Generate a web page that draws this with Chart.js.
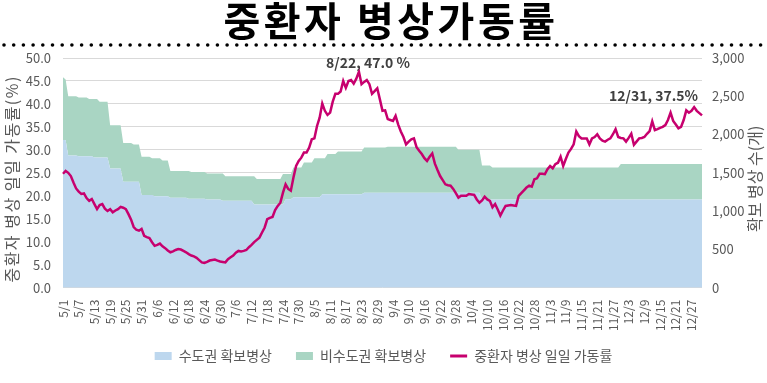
<!DOCTYPE html>
<html><head><meta charset="utf-8">
<script src="https://cdn.jsdelivr.net/npm/chart.js@4"></script>
<style>html,body{margin:0;padding:0;background:#fff;overflow:hidden}#wrap{width:767px;height:383px;position:relative}</style>
</head><body><div id="wrap"><canvas id="c" width="767" height="383"></canvas></div>
<script>
const titleText = '중환자 병상가동률';
const seriesNames = ['수도권 확보병상', '비수도권 확보병상', '중환자 병상 일일 가동률'];
const leftAxisTitle = '중환자 병상 일일 가동률(%)';
const rightAxisTitle = '확보 병상 수(개)';
const monthNames = [5, 6, 7, 8, 9, 10, 11, 12];
const monthDays = [31, 30, 31, 31, 30, 31, 30, 31];
const tickEvery = 6;
const annotations = [{ index: 113, text: '8/22, 47.0 %' }, { index: 244, text: '12/31, 37.5%' }];

// 중환자 병상 일일 가동률 (%), daily 5/1 - 12/31
const occupancyRate = [
  // May
  24.8,25.4,25.0,24.3,22.9,21.6,20.9,20.4,20.5,19.5,18.9,19.3,18.2,17.1,18.0,18.2,17.2,16.7,17.1,16.4,16.8,17.1,17.6,17.4,17.1,16.0,14.8,13.2,12.6,12.4,12.8,
  // June
  11.3,11.0,10.8,9.9,9.1,9.3,9.6,9.0,8.6,8.1,7.7,7.9,8.2,8.4,8.3,8.0,7.7,7.3,7.0,6.8,6.5,6.0,5.5,5.4,5.6,5.9,6.0,6.1,5.9,5.7,
  // July
  5.6,5.5,6.2,6.6,7.0,7.6,8.0,7.9,8.0,8.2,8.8,9.3,9.9,10.4,10.9,12.0,13.1,14.9,15.2,15.4,16.9,17.8,18.5,20.7,22.5,21.5,21.1,24.0,26.5,27.6,28.3,
  // August
  29.4,29.4,30.5,32.3,32.5,35.2,37.0,40.1,38.5,37.6,38.1,40.5,42.2,42.2,42.7,45.0,43.5,45.0,45.2,44.4,45.5,47.0,44.3,44.8,45.2,44.3,42.2,42.8,43.4,41.0,38.5,
  // September
  38.6,36.7,36.5,36.3,37.4,35.5,34.0,32.8,31.2,31.8,32.3,32.5,30.6,29.8,29.1,28.2,27.6,28.5,29.2,27.0,25.6,24.3,23.4,22.5,22.3,22.2,21.5,20.6,19.6,20.0,
  // October
  20.0,20.0,20.4,20.3,20.2,19.2,18.5,19.0,19.8,19.2,18.9,17.5,18.2,17.0,15.7,16.8,17.8,17.9,18.0,17.9,17.8,20.0,20.6,21.2,21.8,22.2,22.0,23.6,23.8,24.8,24.8,
  // November
  24.7,25.8,26.5,26.0,26.9,27.2,28.5,26.5,28.0,29.4,30.2,31.2,34.0,33.0,32.5,32.5,32.5,31.2,32.5,32.8,33.4,32.5,32.0,31.8,32.2,32.5,33.4,34.5,32.8,32.6,
  // December
  32.5,31.8,32.6,33.5,31.1,31.8,32.5,32.6,32.8,33.5,34.1,36.2,34.3,34.5,34.8,35.0,35.4,36.5,38.1,36.3,35.5,34.7,35.0,36.5,38.6,38.1,38.5,39.3,38.5,38.0,37.5
];

// 수도권 확보병상 (beds)
const capitalBeds = [
  // May
  1930,1930,1725,1725,1725,1725,1715,1715,1715,1715,
  1715,1715,1700,1700,1700,1700,1700,1700,1555,1555,
  1555,1555,1555,1385,1385,1385,1385,1385,1385,1385,
  1210,
  // June
  1210,1210,1210,1210,1195,1195,1195,1195,1195,1195,
  1175,1175,1175,1175,1175,1175,1175,1160,1160,1160,
  1160,1160,1160,1160,1150,1150,1150,1150,1150,1150,
  // July
  1135,1135,1135,1135,1135,1135,1135,1135,1135,1135,
  1135,1135,1085,1085,1085,1085,1085,1085,1085,1085,
  1085,1085,1085,1085,1155,1155,1155,1180,1180,1180,
  1180,
  // August
  1180,1180,1180,1180,1180,1180,1180,1220,1220,1220,
  1220,1220,1220,1220,1220,1220,1220,1220,1220,1220,
  1220,1220,1220,1240,1240,1240,1240,1240,1240,1240,
  1240,
  // September
  1240,1240,1240,1240,1240,1240,1240,1240,1240,1240,
  1240,1240,1240,1240,1240,1240,1240,1240,1240,1240,
  1240,1240,1240,1240,1240,1240,1240,1240,1240,1240,
  // October
  1240,1240,1240,1240,1240,1240,1240,1150,1150,1150,
  1150,1150,1150,1150,1150,1150,1150,1150,1150,1150,
  1150,1150,1150,1150,1150,1150,1150,1150,1150,1150,
  1150,
  // November
  1150,1150,1150,1150,1150,1150,1150,1150,1150,1150,
  1150,1150,1150,1150,1150,1150,1150,1150,1150,1150,
  1150,1150,1150,1150,1150,1150,1150,1150,1150,1150,
  // December
  1150,1150,1150,1150,1150,1150,1150,1150,1150,1150,
  1150,1150,1150,1150,1150,1150,1150,1150,1150,1150,
  1150,1150,1150,1150,1150,1150,1150,1150,1150,1150,
  1150
];

// 비수도권 확보병상 (beds)
const nonCapitalBeds = [
  // May
  820,790,775,775,775,775,770,770,770,770,
  750,750,765,765,730,730,730,730,565,565,
  565,565,565,505,505,505,505,485,485,485,
  500,
  // June
  500,500,500,480,495,495,495,465,465,465,
  350,350,350,350,350,350,350,365,350,350,
  350,350,350,350,340,340,340,340,340,340,
  // July
  355,320,320,320,320,320,320,320,320,320,
  320,320,370,335,335,335,335,335,335,335,
  335,335,335,400,330,330,330,390,390,390,
  390,
  // August
  455,455,455,455,510,510,510,470,470,525,
  525,525,525,560,560,560,560,560,560,560,
  560,560,560,590,590,590,590,590,590,590,
  590,
  // September
  590,600,600,600,600,600,600,600,600,600,
  600,600,600,600,600,600,600,600,600,600,
  600,600,600,600,600,600,600,600,560,560,
  // October
  560,560,560,560,560,560,560,445,445,445,
  445,420,420,420,420,420,420,420,420,420,
  420,420,420,420,420,420,420,420,420,420,
  420,
  // November
  420,420,420,420,420,420,420,420,420,420,
  420,420,420,420,420,420,420,420,420,420,
  420,420,420,420,420,420,420,420,420,465,
  // December
  465,465,465,465,465,465,465,465,465,465,
  465,465,465,465,465,465,465,465,465,465,
  465,465,465,465,465,465,465,465,465,465,
  465
];

const dateLabels = [];
monthNames.forEach((m, k) => { for (let d = 1; d <= monthDays[k]; d++) dateLabels.push(m + '/' + d); });

const FONT = "'Noto Sans CJK KR', 'Noto Sans', sans-serif";
Chart.defaults.font.family = FONT;
Chart.defaults.color = '#595959';

function drawRotated(ctx, text, x, y, font, spacing) {
  ctx.save();
  ctx.fillStyle = '#595959';
  ctx.font = font;
  if ('letterSpacing' in ctx) ctx.letterSpacing = spacing;
  ctx.textAlign = 'center';
  ctx.textBaseline = 'middle';
  ctx.translate(x, y);
  ctx.rotate(-Math.PI / 2);
  ctx.fillText(text, 0, 0);
  ctx.restore();
}

const decorPlugin = {
  id: 'decor',
  afterLayout(chart) {
    if (chart.legend) { chart.legend.top -= 10; chart.legend.bottom -= 10; }
  },
  beforeDraw(chart) {
    const ctx = chart.ctx;
    ctx.save();
    ctx.fillStyle = '#fff';
    ctx.fillRect(0, 0, chart.width, chart.height);
    ctx.fillStyle = '#000';
    ctx.font = "bold 40px " + FONT;
    if ('letterSpacing' in ctx) ctx.letterSpacing = '3.5px';
    ctx.textAlign = 'center';
    ctx.textBaseline = 'middle';
    ctx.fillText(titleText, 391, 21);
    if ('letterSpacing' in ctx) ctx.letterSpacing = '0px';
    for (let x = 4; x < chart.width; x += 9.7) {
      ctx.beginPath();
      ctx.arc(x, 45, 1.8, 0, Math.PI * 2);
      ctx.fill();
    }
    ctx.restore();
  },
  afterDraw(chart) {
    const ctx = chart.ctx;
    const a = chart.chartArea;
    const cy = (a.top + a.bottom) / 2 + 6;
    drawRotated(ctx, leftAxisTitle, 12, cy, "16px " + FONT, '1.5px');
    drawRotated(ctx, rightAxisTitle, 755, cy, "16px " + FONT, '0px');
  },
  afterDatasetsDraw(chart) {
    const ctx = chart.ctx;
    const meta = chart.getDatasetMeta(2);
    ctx.save();
    ctx.fillStyle = '#404040';
    ctx.font = "bold 14px " + FONT;
    ctx.textBaseline = 'middle';
    annotations.forEach((an, k) => {
      const p = meta.data[an.index];
      if (k === 0) { ctx.textAlign = 'center'; ctx.fillText(an.text, p.x + 9, p.y - 9); }
      else { ctx.textAlign = 'right'; ctx.fillText(an.text, p.x - 4, p.y - 20); }
    });
    ctx.restore();
  }
};

new Chart(document.getElementById('c'), {
  type: 'line',
  data: {
    labels: dateLabels,
    datasets: [
      { label: seriesNames[0], data: capitalBeds, yAxisID: 'y2', stack: 'beds', backgroundColor: '#BDD7EE', borderColor: '#BDD7EE', borderWidth: 0, pointRadius: 0, fill: 'origin', order: 1 },
      { label: seriesNames[1], data: nonCapitalBeds, yAxisID: 'y2', stack: 'beds', backgroundColor: '#A9D5C3', borderColor: '#A9D5C3', borderWidth: 0, pointRadius: 0, fill: '-1', order: 1 },
      { label: seriesNames[2], data: occupancyRate, yAxisID: 'y', borderColor: '#C7006E', backgroundColor: '#C7006E', borderWidth: 2.5, pointRadius: 0, fill: false, tension: 0, order: 0 }
    ]
  },
  options: {
    responsive: false,
    animation: false,
    devicePixelRatio: 1,
    layout: { padding: { top: 58, left: 0, right: 0, bottom: 0 } },
    plugins: {
      title: { display: false },
      tooltip: { enabled: false },
      legend: {
        position: 'bottom',
        labels: {
          usePointStyle: true,
          pointStyleWidth: 17,
          boxHeight: 8,
          padding: 24,
          color: '#595959',
          font: { size: 14 },
          generateLabels: (chart) => chart.data.datasets.map((ds, i) => ({
            text: ds.label,
            fillStyle: i === 2 ? ds.borderColor : ds.backgroundColor,
            strokeStyle: ds.borderColor,
            lineWidth: i === 2 ? 3 : 0,
            pointStyle: i === 2 ? 'line' : 'rect',
            hidden: false,
            datasetIndex: i,
            fontColor: '#595959'
          }))
        }
      }
    },
    scales: {
      x: {
        offset: false,
        grid: { display: false },
        border: { display: false },
        ticks: {
          autoSkip: false, maxRotation: 90, minRotation: 90, padding: 4,
          font: { size: 12 }, color: '#595959',
          callback: (v, i) => (i % tickEvery === 0 ? dateLabels[i] : null)
        }
      },
      y: {
        position: 'left', min: 0, max: 50,
        grid: { color: '#D9D9D9', drawTicks: false },
        border: { display: false },
        ticks: { stepSize: 5, padding: 12, font: { size: 13 }, color: '#595959', callback: v => Number(v).toFixed(1) },
        afterFit: s => { s.width = 63; }
      },
      y2: {
        position: 'right', min: 0, max: 3000, stacked: true,
        grid: { display: false, drawTicks: false },
        border: { display: false },
        ticks: { stepSize: 500, padding: 10, font: { size: 13 }, color: '#595959', callback: v => Number(v).toLocaleString('en-US') },
        afterFit: s => { s.width = 65; }
      }
    }
  },
  plugins: [decorPlugin]
});
</script></body></html>
